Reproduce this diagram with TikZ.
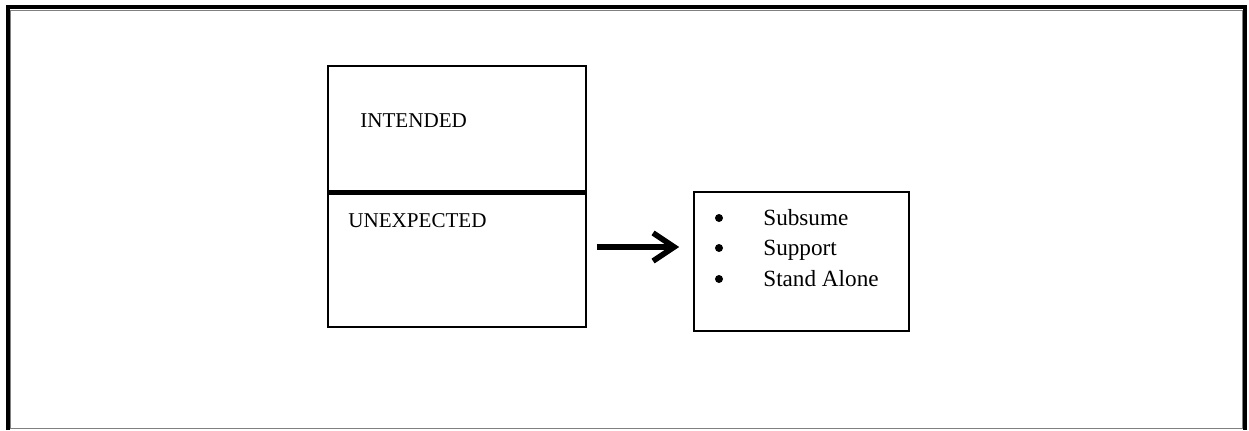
\documentclass[tikz,border=0pt]{standalone}
\usepackage{fontspec}
\setmainfont{Liberation Serif}
\usetikzlibrary{positioning, arrows.meta}

\begin{document}
\begin{tikzpicture}[
                x=0.02cm, y=-0.02cm,
                >={Straight Barb[length=12pt, width=16pt]},
                font=\fontsize{12}{14}\selectfont,
                part/.style={draw, line width=0.8pt, rectangle, minimum width=5.16cm, inner sep=0pt},
                list/.style={draw, line width=0.9pt, rectangle, minimum width=4.3cm, minimum height=2.78cm, inner sep=0pt},
                label/.style={anchor=base west, inner sep=0pt},
                dot/.style={circle, fill=black, minimum size=0.16cm, inner sep=0pt},
                flow/.style={->, line width=3.2pt},
            ]
                \useasboundingbox (0,0) rectangle (1249,430);

                % Frame round the figure
                \draw[gray, line width=0.5pt] (10.5,10.5) rectangle (1242.5,428);
                \draw[line width=2.3pt] (8,430) -- (8,7) -- (1245,7) -- (1245,430);

                % Draw the two halves of the left box
                \node[part, minimum height=2.52cm] (upper) at (457,129) {};
                \node[part, minimum height=2.7cm] (lower) at (457,259.5) {};
                \draw[line width=2.6pt] (upper.south west) -- (upper.south east);
                \node[label] (intended) at (360,127) {INTENDED};
                \node[label] (unexpected) at (348,227) {UNEXPECTED};

                % Draw the list box
                \node[list] (items) at (801.5,261.5) {};
                \foreach \txt / \y [count=\i] in {Subsume/225, Support/255, Stand Alone/286} {
                    \node[dot] (dot-\i) at (719,\y-7) {};
                    \node[label, font=\fontsize{13.2}{15}\selectfont] (item-\i) at (763,\y) {\txt};
                }

                % Connect the lower half with the list
                \draw[flow] ([shift={(10,-12.5)}]lower.east) -- ([shift={(-14,-14.5)}]items.west);
            \end{tikzpicture}
\end{document}
